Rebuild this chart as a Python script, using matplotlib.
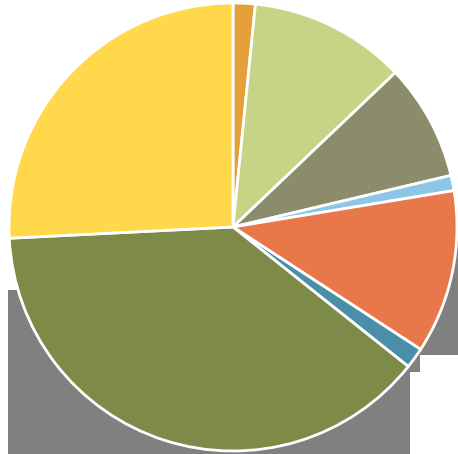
import matplotlib
matplotlib.use("Agg")
import matplotlib.pyplot as plt
from matplotlib.patches import Rectangle

labels = ["A", "B", "C", "D", "E", "F", "G", "H"]
values = [1.6, 11.3, 8.4, 1.1, 11.8, 1.5, 38.5, 25.8]
colors = ["#E5A03A", "#C5D585", "#8C8C6C", "#8CC6E6", "#E8784A", "#4A8FA8", "#7E8A48", "#FFD84C"]

W, H = 458, 454
cx, cy, r = 233, 227, 224
fig = plt.figure(figsize=(W / 100, H / 100), dpi=100)
ax = fig.add_axes([0, 0, 1, 1])

def px(x, y):
    return (x - cx) / r, (cy - y) / r

# background gray blocks
for (x0, y0, x1, y1) in [(8, 290, 410, 454), (418, 232, 458, 355), (405, 350, 420, 372)]:
    a = px(x0, y1)
    b = px(x1, y0)
    ax.add_patch(Rectangle(a, b[0] - a[0], b[1] - a[1], color="#808080", zorder=0, lw=0))

ax.pie(values, colors=colors, startangle=90, counterclock=False, radius=1,
       wedgeprops=dict(edgecolor="white", linewidth=2))
ax.set_xlim(-cx / r, (W - cx) / r)
ax.set_ylim(-(H - cy) / r, cy / r)
ax.set_aspect("auto")
ax.axis("off")
fig.savefig("out.png", dpi=100)
